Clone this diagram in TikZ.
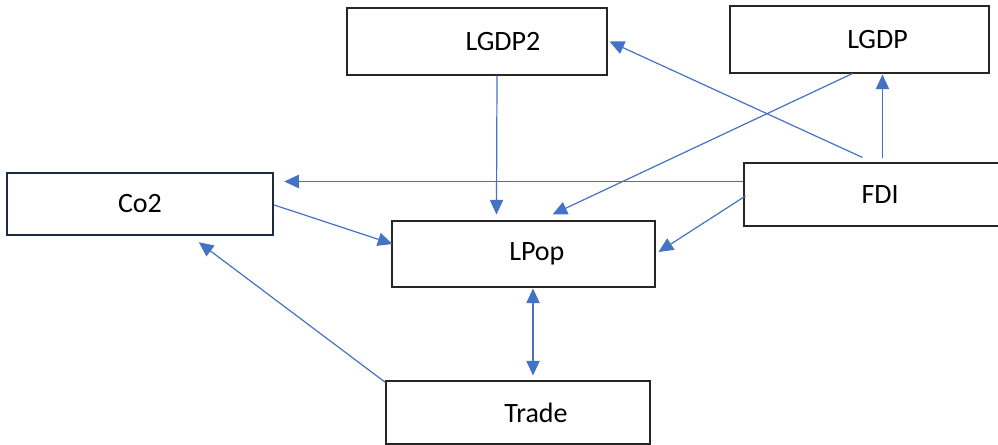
\documentclass[tikz,border=0pt]{standalone}
\usepackage{fontspec}
\setmainfont{Carlito}
\usepackage{tikz}
\usetikzlibrary{calc,arrows.meta,positioning}
\definecolor{bluex}{HTML}{4472C4}
\definecolor{navyx}{HTML}{1F2A44}
\tikzset{
  ar/.style={-{Triangle[length=11pt,width=10pt]},line width=0.9pt,bluex},
  dbl/.style={{Triangle[length=11pt,width=10pt]}-{Triangle[length=11pt,width=10pt]},line width=0.9pt,bluex},
  box/.style={draw=black!85,line width=0.8pt,inner sep=0pt,font=\fontsize{21}{25}\selectfont}
}
\begin{document}
\begin{tikzpicture}[x=0.75pt,y=-0.75pt]
\path[use as bounding box,clip] (0,0) rectangle (998,445);
\node[box,minimum width=195pt,minimum height=50.25pt] (lgdp2) at (477,41.5) {\hspace*{39pt}LGDP2};
\node[box,minimum width=194.25pt,minimum height=50.25pt] (lgdp) at (859.5,39.5) {\hspace*{27pt}LGDP};
\node[box,draw=navyx,line width=1.8pt,minimum width=199.5pt,minimum height=46.5pt] (co2) at (140,204) {Co2};
\node[box,minimum width=194.25pt,minimum height=47.25pt] (fdi) at (873.5,194.5) {\hspace*{10pt}FDI};
\node[box,minimum width=197.25pt,minimum height=49.5pt] (lpop) at (523.5,254) {\hspace*{20pt}LPop};
\node[box,minimum width=198pt,minimum height=47.25pt] (trade) at (518,412.5) {\hspace*{27pt}Trade};
\draw[ar] ($(fdi.north west)+(119,-5)$) -- ($(lgdp2.east)+(2,0)$);
\draw[ar] ($(fdi.north west)+(139,-4)$) -- ($(lgdp.south west)+(153,1)$);
\draw[ar] ($(lgdp.south west)+(123,0)$) -- ($(lpop.north west)+(161,-6)$);
\draw[ar] ($(fdi.west)+(0,-13)$) -- ($(co2.east)+(10,-22.5)$);
\draw[ar] ($(fdi.west)+(2,1.5)$) -- ($(lpop.east)+(3,-2)$);
\draw[ar] ($(lgdp2.south)+(20,0)$) -- ($(lpop.north west)+(105,-6)$);
\draw[ar] ($(co2.east)+(0,1)$) -- ($(lpop.west)+(1,-10)$);
\draw[ar] ($(trade.north west)+(0,2)$) -- ($(co2.south west)+(193,6)$);
\draw[dbl] ($(lpop.south)+(9.5,1)$) -- ($(trade.north)+(15,-5)$);
\end{tikzpicture}
\end{document}
